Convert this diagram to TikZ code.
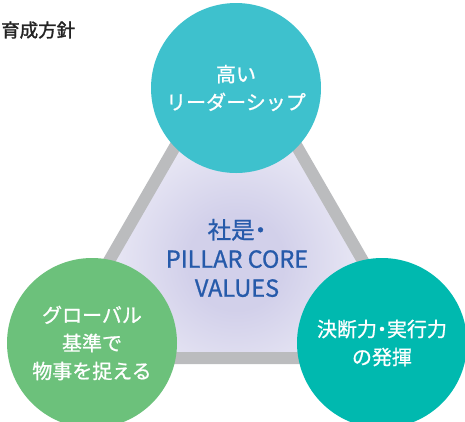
\documentclass[tikz,border=0pt]{standalone}
\usepackage{fontspec}
\newfontfamily\jp[FakeBold=0.9]{Noto Sans CJK JP}
\newfontfamily\jpb[FakeBold=1.6]{Noto Sans CJK JP}
\newcommand{\ndot}{{\addfontfeature{RawFeature=+palt}・}}
\definecolor{topc}{RGB}{62,193,205}
\definecolor{leftc}{RGB}{108,193,123}
\definecolor{rightc}{RGB}{0,185,175}
\definecolor{linec}{RGB}{187,188,190}
\definecolor{bluec}{RGB}{38,90,170}
\definecolor{lav}{RGB}{210,208,234}
\definecolor{titlec}{RGB}{35,35,35}
\pgfdeclareradialshading{glow}{\pgfpoint{0bp}{0bp}}{color(0bp)=(lav); color(6bp)=(lav); color(26bp)=(white); color(50bp)=(white)}
\tikzset{
  bubble/.style={circle, minimum size=170pt, inner sep=0pt, text=white, align=center,
    font=\jp\fontsize{20}{28}\selectfont},
  coretext/.style={text=bluec, align=center, inner sep=0pt, font=\jp\fontsize{23.5}{29}\selectfont},
  titletext/.style={anchor=west, text=titlec, inner sep=0pt, font=\jpb\fontsize{18.5}{22}\selectfont},
  frame/.style={draw=linec, line width=12pt, line join=miter}
}
\begin{document}
\begin{tikzpicture}[x=1pt,y=-1pt]
\useasboundingbox (0,0) rectangle (465,421);
\coordinate (A) at (236,41);
\coordinate (B) at (53,358);
\coordinate (C) at (419,358);
\begin{scope}
  \clip (A) -- (B) -- (C) -- cycle;
  \shade[shading=glow] (236,262) circle (200);
\end{scope}
\draw[frame] (A) -- (B) -- (C) -- cycle;
\node[titletext] (title) at (1,30) {育成方針};
\node[bubble, fill=topc] (lead) at (236,88) {高い\\リーダーシップ};
\node[bubble, fill=leftc] (glob) at (92,343) {グローバル\\基準で\\物事を捉える};
\node[bubble, fill=rightc] (dec) at (382,343) {決断力\ndot 実行力\\の発揮};
\node[coretext] (core) at (237,258) {社是\ndot\\PILLAR CORE\\VALUES};
\end{tikzpicture}
\end{document}
